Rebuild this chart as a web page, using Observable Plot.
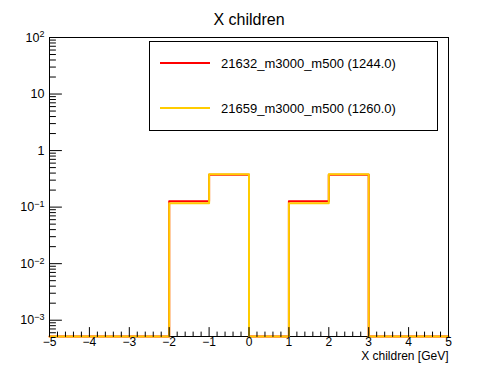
<!DOCTYPE html>
<html>
<head>
<meta charset="utf-8">
<script src="https://cdn.jsdelivr.net/npm/d3@7"></script>
<script src="https://cdn.jsdelivr.net/npm/@observablehq/plot@0.6"></script>
<style>
  html, body { margin: 0; padding: 0; background: white; }
  #chart { position: relative; width: 498px; height: 374px; }
</style>
</head>
<body>
<div id="chart"></div>
<script>
// ---- data ----
const title = "X children";
const xTitle = "X children [GeV]";
const binEdges = [-5, -4, -3, -2, -1, 0, 1, 2, 3, 4, 5];
const seriesNames = ["21632_m3000_m500 (1244.0)", "21659_m3000_m500 (1260.0)"];
const seriesColors = ["#ff0000", "#ffcc00"];
const redValues    = [0, 0, 0, 0.127, 0.373, 0, 0.127, 0.373, 0, 0];
const yellowValues = [0, 0, 0, 0.117, 0.383, 0, 0.117, 0.383, 0, 0];
const xMajorTicks = [-5, -4, -3, -2, -1, 0, 1, 2, 3, 4, 5];
const yMajorTicks = [1e-3, 1e-2, 1e-1, 1, 10, 100];
const yDomain = [5.15e-4, 100];
const xDomain = [-5, 5];

// ---- derived ----
const xMinorTicks = d3.range(-5, 5.0001, 0.2).map(v => +v.toFixed(1)).filter(v => !Number.isInteger(v));
const yMinorTicks = [];
for (let e = -4; e <= 1; e++) for (let m = 2; m <= 9; m++) {
  const v = m * Math.pow(10, e);
  if (v >= yDomain[0] && v <= yDomain[1]) yMinorTicks.push(v);
}
function steps(values, name) {
  const pts = values.map((v, i) => ({x: binEdges[i], y: Math.max(v, yDomain[0]), s: name}));
  pts.push({x: binEdges[binEdges.length - 1], y: Math.max(values[values.length - 1], yDomain[0]), s: name});
  return pts;
}
const redSteps = steps(redValues, seriesNames[0]);
const yellowSteps = steps(yellowValues, seriesNames[1]);

const tickLine = {draw(c, l) { c.moveTo(0, 0); c.lineTo(0, -l); }};
const yFmt = d => {
  const e = Math.round(Math.log10(d));
  if (e === 0) return "1";
  if (e === 1) return "10";
  return "10^" + (e < 0 ? "\u2212" + (-e) : e);
};
const xFmt = d => d < 0 ? "\u2212" + Math.abs(d) : String(d);

const font = "'Liberation Sans', Arial, Helvetica, sans-serif";

const plot = Plot.plot({
  width: 498,
  height: 374,
  marginLeft: 49,
  marginRight: 50,
  marginTop: 37,
  marginBottom: 38,
  style: {fontFamily: font, background: "white", color: "black", overflow: "visible"},
  x: {domain: xDomain, label: null},
  y: {type: "log", domain: yDomain, label: null, clamp: true},
  marks: [
    Plot.frame({stroke: "black", strokeWidth: 1}),
    Plot.line(redSteps, {x: "x", y: "y", curve: "step-after", stroke: seriesColors[0], strokeWidth: 2}),
    Plot.line(yellowSteps, {x: "x", y: "y", curve: "step-after", stroke: seriesColors[1], strokeWidth: 2}),
    Plot.vector(xMajorTicks, {x: d => d, frameAnchor: "bottom", anchor: "start", rotate: 0, length: 9, shape: tickLine, stroke: "black", strokeWidth: 1}),
    Plot.vector(xMinorTicks, {x: d => d, frameAnchor: "bottom", anchor: "start", rotate: 0, length: 4.5, shape: tickLine, stroke: "black", strokeWidth: 1}),
    Plot.vector(yMajorTicks, {y: d => d, frameAnchor: "left", anchor: "start", rotate: 90, length: 12, shape: tickLine, stroke: "black", strokeWidth: 1}),
    Plot.vector(yMinorTicks, {y: d => d, frameAnchor: "left", anchor: "start", rotate: 90, length: 6, shape: tickLine, stroke: "black", strokeWidth: 1}),
    Plot.axisX({ticks: xMajorTicks, tickSize: 0, tickPadding: 1, tickFormat: xFmt, fontSize: 12, label: null}),
    Plot.axisY({ticks: yMajorTicks, tickSize: 0, tickPadding: 5, tickFormat: yFmt, fontSize: 12.5, label: null}),
    Plot.text([xTitle], {frameAnchor: "bottom-right", dy: 23.5, textAnchor: "end", fontSize: 12}),
    Plot.text([title], {frameAnchor: "top", dy: -24, fontSize: 16})
  ]
});

const svg = d3.select(plot);
// superscripts on the y tick labels
svg.selectAll('g[aria-label="y-axis tick label"] text').each(function() {
  const t = d3.select(this);
  const s = t.text();
  const m = s.match(/^10\^(.*)$/);
  if (m) {
    t.text("10");
    t.append("tspan").attr("dy", "-0.45em").attr("font-size", "0.72em").text(m[1]);
  }
});

// legend box
const leg = svg.append("g").attr("font-family", font).attr("text-anchor", "start");
leg.append("rect").attr("x", 149.5).attr("y", 41.5).attr("width", 288).attr("height", 89)
  .attr("fill", "white").attr("stroke", "black").attr("stroke-width", 1);
const legY = [63, 108];
seriesNames.forEach((name, i) => {
  leg.append("line").attr("x1", 160).attr("x2", 210).attr("y1", legY[i]).attr("y2", legY[i])
    .attr("stroke", seriesColors[i]).attr("stroke-width", 2);
  leg.append("text").attr("x", 221).attr("y", legY[i]).attr("dy", "0.35em")
    .attr("text-anchor", "start")
    .attr("font-size", 13).attr("fill", "black").text(name);
});

document.getElementById("chart").appendChild(plot);
</script>
</body>
</html>
